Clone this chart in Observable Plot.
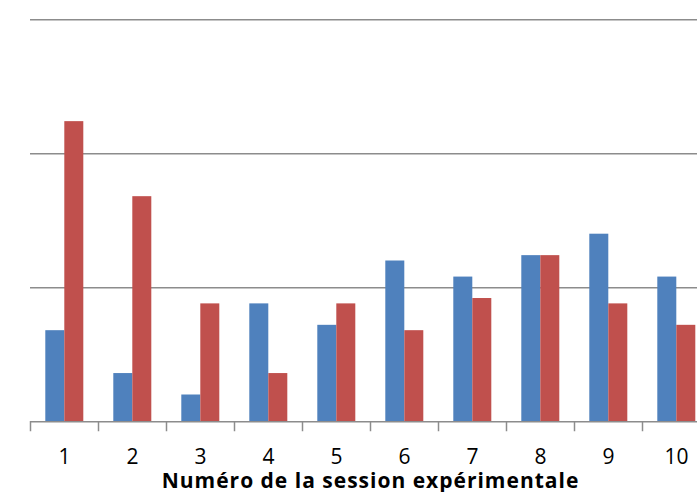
<!DOCTYPE html>
<html>
<head>
<meta charset="utf-8">
<script src="https://cdn.jsdelivr.net/npm/d3@7"></script>
<script src="https://cdn.jsdelivr.net/npm/@observablehq/plot@0.6"></script>
<style>
  html, body { margin: 0; padding: 0; overflow: hidden; background: #fff; }
  #chart svg { max-width: none !important; }
  #chart svg [aria-label="fx-axis tick label"] { font-size: 21px; }
  #chart svg [aria-label="fx-axis label"] { font-weight: bold; font-size: 21px; letter-spacing: 1px; }
</style>
</head>
<body>
<div id="chart"></div>
<script>
// Sessions on the horizontal axis
const sessions = [1, 2, 3, 4, 5, 6, 7, 8, 9, 10];
// Two series per session
const seriesNames = ["Série 1", "Série 2"];
const serie1 = [17, 9, 5, 22, 18, 30, 27, 31, 35, 27];
const serie2 = [56, 42, 22, 9, 22, 17, 23, 31, 22, 18];
// Horizontal gridlines
const yTicks = [0, 25, 50, 75];
const xLabel = "Numéro de la session expérimentale";

const data = sessions.flatMap((s, i) => [
  {session: s, serie: seriesNames[0], value: serie1[i]},
  {session: s, serie: seriesNames[1], value: serie2[i]}
]);

const W = 720, H = 492;
const mTop = 19.3, mBottom = H - 421.3;
const gridColor = "#8c8c8c";

const chart = Plot.plot({
  width: W,
  height: H,
  marginLeft: 28.7,
  marginRight: W - 711.2,
  marginTop: mTop,
  marginBottom: mBottom,
  style: {fontFamily: "'Open Sans', sans-serif", background: "#fff", color: "#000", maxWidth: "none"},
  fx: {domain: sessions, padding: 0},
  x: {domain: seriesNames, paddingInner: 0, paddingOuter: 0.75, axis: null},
  y: {domain: [0, 75], axis: null},
  color: {domain: seriesNames, range: ["#4F81BD", "#C0504D"]},
  marks: [
    Plot.ruleY(yTicks.filter(d => d > 0), {stroke: gridColor, strokeWidth: 1.5}),
    Plot.barY(data, {fx: "session", x: "serie", y: "value", fill: "serie"}),
    Plot.ruleY([0], {stroke: gridColor, strokeWidth: 1.5}),
    // category separators below the baseline
    Plot.frame({anchor: "left", stroke: gridColor, strokeWidth: 1.5,
                insetTop: H - mTop - mBottom, insetBottom: -8.7}),
    Plot.axisFx({
      anchor: "bottom",
      tickSize: 0,
      tickPadding: 27.7,
      label: xLabel,
      labelAnchor: "center",
      labelOffset: 66
    })
  ]
});

document.getElementById("chart").append(chart);
</script>
</body>
</html>
